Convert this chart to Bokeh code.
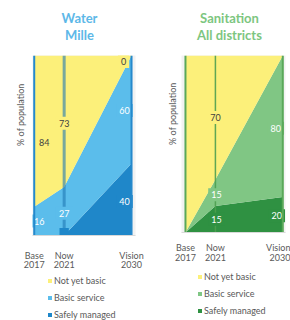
import math
from bokeh.plotting import figure
from bokeh.models import (Range1d, LinearAxis, FixedTicker, Title, Label, Legend,
                          LegendItem, ColumnDataSource)
from bokeh.layouts import row, column
from bokeh.embed import file_html
from bokeh.resources import INLINE
from bokeh.core.properties import value

# ---------------- data ----------------
years = [2017, 2021, 2030]
stage_names = ["Base", "Now", "Vision"]
stage_years = ["2017", "2021", "2030"]
series_names = ["Not yet basic", "Basic service", "Safely managed"]

water_safely = [0, 0, 40]
water_basic = [16, 27, 60]
water_not_yet = [84, 73, 0]
water_label_safely = ["", "-", "40"]
water_label_basic = ["16", "27", "60"]
water_label_not_yet = ["84", "73", "0"]

san_safely = [0, 15, 20]
san_basic = [0, 15, 80]
san_not_yet = [100, 70, 0]
san_label_safely = ["", "15", "20"]
san_label_basic = ["", "15", "80"]
san_label_not_yet = ["", "70", ""]

# ---------------- style ----------------
FONT = "Lato"
GREY = "#595959"
DARK = "#404040"
YELLOW = "#FCF07A"


def bare(fig):
    fig.grid.visible = False
    fig.outline_line_color = None
    fig.background_fill_color = "white"
    fig.border_fill_color = "white"
    return fig


def title_fig(t1, t2, tcolor, cfg):
    tf = bare(figure(title=None, width=145, height=cfg["h"], min_border=0,
                     x_range=Range1d(0, 1), y_range=Range1d(0, 1),
                     output_backend="svg", toolbar_location=None,
                     x_axis_location=None, y_axis_location=None))
    for txt, yy in ((t1, cfg["y1"]), (t2, cfg["y2"])):
        tf.add_layout(Label(x=cfg["x"], y=yy, x_units="screen", y_units="screen",
                            text=txt, text_align="center", text_baseline="middle",
                            text_font=FONT, text_font_style="bold",
                            text_font_size="13px", text_color=tcolor))
    return tf


def panel(c_basic, c_safe, safely, basic, not_yet, lab_s, lab_b, lab_n, cfg):
    p = figure(title=None, frame_width=cfg["fw"], frame_height=cfg["fh"],
               min_border_left=cfg["bl"], min_border_right=cfg["br"],
               min_border_top=0, min_border_bottom=cfg["bb"],
               x_range=Range1d(*cfg["xr"]), y_range=Range1d(0, 100),
               output_backend="svg", toolbar_location=None,
               x_axis_location=None, y_axis_location=None)
    bare(p)
    p.background_fill_color = "#f2f2f2"

    src = ColumnDataSource(dict(x=years, safely=safely, basic=basic, not_yet=not_yet))
    p.varea_stack(["safely", "basic", "not_yet"], x="x", source=src,
                  fill_color=[c_safe, c_basic, YELLOW])

    totals = [a + b + c for a, b, c in zip(safely, basic, not_yet)]

    # middle drop line
    p.segment(x0=[years[1]], y0=[0], x1=[years[1]], y1=[totals[1]],
              line_color=cfg["mid_color"], line_width=cfg["mid_w"],
              line_alpha=cfg["mid_alpha"])

    # data labels
    lx, ly, lt, lc, lb, lxo, lyo = [], [], [], [], [], [], []
    for i in range(3):
        mids = [safely[i] / 2, safely[i] + basic[i] / 2,
                safely[i] + basic[i] + not_yet[i] / 2]
        labs = [lab_s[i], lab_b[i], lab_n[i]]
        cols = ["white", "white", DARK]
        bgs = [c_safe, c_basic, YELLOW]
        for k in range(3):
            if labs[k] == "":
                continue
            lx.append(years[i]); ly.append(mids[k]); lt.append(labs[k])
            lc.append(cols[k]); lb.append(bgs[k])
            lxo.append(cfg["xo"][k][i]); lyo.append(cfg["yo"][k][i])
    lsrc = ColumnDataSource(dict(x=lx, y=ly, text=lt, color=lc, bg=lb, xo=lxo, yo=lyo))
    p.text(x="x", y="y", text="text", source=lsrc, text_color="color",
           x_offset="xo", y_offset="yo", text_align="center",
           text_baseline="middle", text_font=value(FONT), text_font_size="9px",
           background_fill_color="bg", padding=3)

    # edge lines
    p.segment(x0=[years[0], years[-1]], y0=[0, 0], x1=[years[0], years[-1]],
              y1=[totals[0], totals[-1]], line_color=cfg["edge_color"],
              line_width=cfg["edge_w"])

    # x axes (two rows of tick labels)
    ax1 = LinearAxis(ticker=FixedTicker(ticks=years),
                     major_label_overrides={y: n for y, n in zip(years, stage_names)})
    ax2 = LinearAxis(ticker=FixedTicker(ticks=years),
                     major_label_overrides={y: n for y, n in zip(years, stage_years)})
    for ax, st, lc_ in ((ax1, cfg["st1"], "#d9d9d9"), (ax2, cfg["st2"], None)):
        ax.axis_line_color = lc_
        ax.major_tick_line_color = None
        ax.minor_tick_line_color = None
        ax.major_tick_out = 0
        ax.major_tick_in = 0
        ax.minor_tick_out = 0
        ax.axis_label_standoff = 0
        ax.major_label_standoff = st
        ax.major_label_text_font = FONT
        ax.major_label_text_font_size = "9px"
        ax.major_label_text_color = GREY
        p.add_layout(ax, "below")

    # y label
    p.add_layout(Title(text="% of population", align="right", offset=cfg["yoff"],
                       vertical_align="top", standoff=cfg["ys"],
                       text_font=FONT, text_font_style="normal",
                       text_font_size="9px", text_color=GREY), "left")
    return p


def legend_fig(c_basic, c_safe, safely, basic, not_yet, cfg):
    lf = bare(figure(title=None, width=145, height=cfg["h"], min_border=0,
                     x_range=Range1d(0, 1), y_range=Range1d(0, 1),
                     output_backend="svg", toolbar_location=None,
                     x_axis_location=None, y_axis_location=None))
    # legend proxies: the real stacks, lying outside this small figure's view
    src = ColumnDataSource(dict(x=years, safely=safely, basic=basic, not_yet=not_yet))
    rs = lf.varea_stack(["safely", "basic", "not_yet"], x="x", source=src,
                        fill_color=[c_safe, c_basic, YELLOW])
    items = [LegendItem(label=series_names[0], renderers=[rs[2]]),
             LegendItem(label=series_names[1], renderers=[rs[1]]),
             LegendItem(label=series_names[2], renderers=[rs[0]])]
    leg = Legend(items=items, location=cfg["loc"], orientation="vertical",
                 glyph_width=5, glyph_height=5, label_height=10,
                 spacing=cfg["sp"], padding=0, margin=0,
                 border_line_color=None, background_fill_alpha=0,
                 label_text_font=FONT, label_text_font_size="9px",
                 label_text_color=GREY, label_standoff=2)
    lf.add_layout(leg)
    return lf


cfg_w = dict(fw=103, fh=180, bl=32, br=10, bb=35, xr=(2016.77, 2030.53),
             mid_color="#1F78B4", mid_w=3, mid_alpha=0.6,
             edge_color="#2589CC", edge_w=2,
             xo=[[0, 0, -7], [5, 0, -7], [10, 0, -8]],
             yo=[[0, -1, 2], [0, 2, 1], [11, 2, 6]],
             st1=14, st2=-3, yoff=28, ys=10)
cfg_s = dict(fw=104, fh=177, bl=36, br=5, bb=38, xr=(2016.47, 2030.36),
             mid_color="#4E9F50", mid_w=1.5, mid_alpha=0.9,
             edge_color="#5AA85A", edge_w=2,
             xo=[[0, 1, -6], [0, 1, -7], [0, 0, -7]],
             yo=[[0, 0, 1], [0, 2, 2], [0, 0, 0]],
             st1=9, st2=-2, yoff=27, ys=4)

t1 = title_fig("Water", "Mille", "#5DB8E8", dict(h=55, x=47, y1=38, y2=21))
t2 = title_fig("Sanitation", "All districts", "#7DC67F", dict(h=55, x=48, y1=38, y2=21))

p1 = panel("#5BBDEB", "#1F87C9", water_safely, water_basic, water_not_yet,
           water_label_safely, water_label_basic, water_label_not_yet, cfg_w)
p2 = panel("#80C684", "#2F9142", san_safely, san_basic, san_not_yet,
           san_label_safely, san_label_basic, san_label_not_yet, cfg_s)

l1 = legend_fig("#5BBDEB", "#1F87C9", water_safely, water_basic, water_not_yet,
                dict(h=50, loc=(15, 0), sp=6))
l2 = legend_fig("#80C684", "#2F9142", san_safely, san_basic, san_not_yet,
                dict(h=50, loc=(16, 4), sp=6))

layout = row(column(t1, p1, l1), column(t2, p2, l2))
open("out.html", "w").write(file_html(layout, INLINE))
